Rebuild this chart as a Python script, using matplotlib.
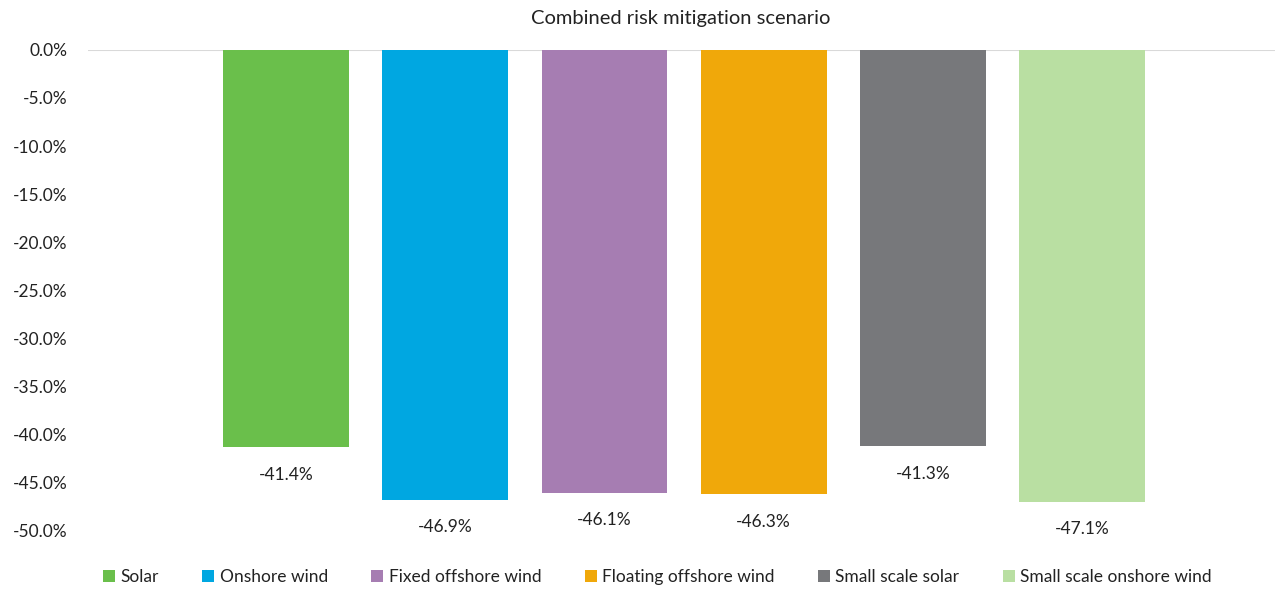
import matplotlib.pyplot as plt
from matplotlib.ticker import FuncFormatter

plt.rcParams['font.family'] = ['Lato', 'DejaVu Sans']

technologies = ['Solar', 'Onshore wind', 'Fixed offshore wind', 'Floating offshore wind',
                'Small scale solar', 'Small scale onshore wind']
change = [-41.4, -46.9, -46.1, -46.3, -41.3, -47.1]
colors = ['#6abf4b', '#00a7e1', '#a67db2', '#f0a80a', '#77787b', '#b9dfa2']
yticks = [0, -5, -10, -15, -20, -25, -30, -35, -40, -45, -50]

fig = plt.figure(figsize=(12.79, 5.91), dpi=100)
ax = fig.add_axes([0.0688, 0.1032, 0.9281, 0.8122])

xs = list(range(len(technologies)))
bars = ax.bar(xs, change, width=0.79, color=colors, label=technologies)

for x, v in zip(xs, change):
    ax.annotate(f'{v:.1f}%', (x, v), xytext=(0, -19.5), textcoords='offset points',
                ha='center', va='center', fontsize=12.5, color='#222222')

ax.axhline(0, color='#d9d9d9', lw=1.5, zorder=0)
ax.set_xlim(-1.244, 6.212)
ax.set_ylim(-50, 0)
ax.set_yticks(yticks)
ax.yaxis.set_major_formatter(FuncFormatter(lambda v, p: f'{v:.1f}%'))
ax.tick_params(axis='y', length=0, pad=15, labelsize=12.5, labelcolor='#222222')
ax.set_xticks([])
for s in ax.spines.values():
    s.set_visible(False)

fig.text(0.532, 0.969, 'Combined risk mitigation scenario', ha='center', va='center',
         fontsize=14.5, color='#222222')

fig.legend(handles=bars.patches, labels=technologies, loc='center',
           bbox_to_anchor=(0.514, 0.024), ncol=6, frameon=False, fontsize=12.5,
           handlelength=0.7, handleheight=0.7, handletextpad=0.3, columnspacing=2.5,
           labelcolor='#222222')

fig.savefig('out.png', dpi=100)
